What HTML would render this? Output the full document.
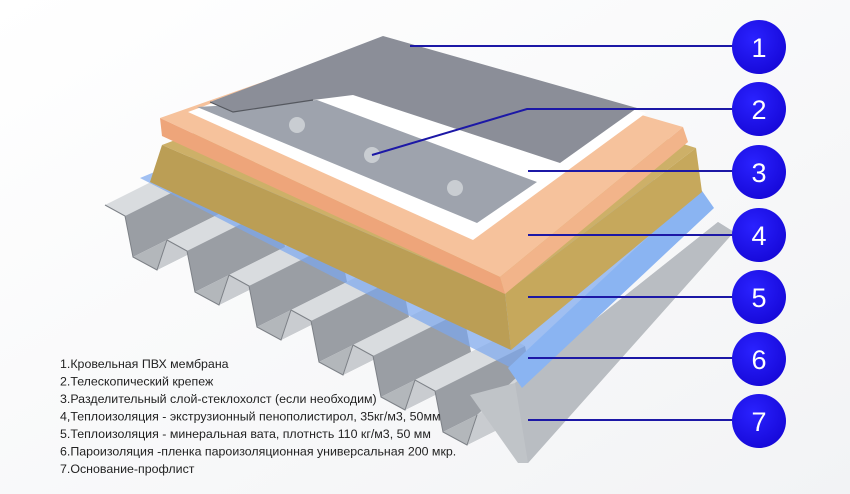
<!DOCTYPE html>
<html><head><meta charset="utf-8"><style>
html,body{margin:0;padding:0;background:#fff;}
svg{display:block}
</style></head><body>
<svg width="850" height="494" viewBox="0 0 850 494" xmlns="http://www.w3.org/2000/svg">
<defs>
<radialGradient id="cg" cx="0.4" cy="0.35" r="0.7">
<stop offset="0" stop-color="#2a22ff"/><stop offset="1" stop-color="#1608d8"/>
</radialGradient>
<linearGradient id="bg" x1="0" y1="0" x2="1" y2="1">
<stop offset="0" stop-color="#ffffff"/><stop offset="1" stop-color="#f2f3f5"/>
</linearGradient>
<g id="rib">
<polygon points="0,0 20,11 110,-34 90,-45" fill="#d9dcdf"/>
<polygon points="20,11 28,52 118,7 110,-34" fill="#9a9ea4"/>
<polygon points="28,52 52,65 142,20 118,7" fill="#b3b7bb"/>
<polygon points="52,65 62,35 152,-10 142,20" fill="#c9ccd0"/>
<polyline points="0,0 20,11 28,52 52,65 62,35" fill="none" stroke="#7d8187" stroke-width="1"/>
</g>
</defs>
<rect width="850" height="494" fill="url(#bg)"/>

<!-- steel deck ribs -->
<use href="#rib" x="105" y="205"/>
<use href="#rib" x="167" y="240"/>
<use href="#rib" x="229" y="275"/>
<use href="#rib" x="291" y="310"/>
<use href="#rib" x="353" y="345"/>
<use href="#rib" x="415" y="380"/>
<!-- last rib top + big web -->
<polygon points="477,415 497,405 700,215 690,212" fill="#d4d7da"/>
<polygon points="470,395 515,383 718,222 734,232 528,463 518,463" fill="#c0c4c8"/>
<polygon points="515,383 718,222 734,232 528,463" fill="#b9bdc2"/>

<!-- blue vapour film -->
<polygon points="140,178 400,70 712,205 527,376" fill="#7aa6ee" fill-opacity="0.7"/>
<polygon points="700,188 714,208 522,388 508,368" fill="#8ab4f2"/>

<!-- mineral wool -->
<polygon points="162,145 400,55 696,148 505,293" fill="#cdb068"/>
<polygon points="162,145 505,293 511,350 150,182" fill="#bb9e55"/>
<polygon points="505,293 696,148 702,192 511,350" fill="#c6a85c"/>

<!-- XPS orange -->
<polygon points="160,118 382,40 683,127 500,277" fill="#f6c29c"/>
<polygon points="160,118 500,277 505,294 162,136" fill="#eea57a"/>
<polygon points="500,277 683,127 688,142 505,294" fill="#f2b48a"/>

<!-- white glass mat -->
<polygon points="188,112 383,40 646,113 473,240" fill="#ffffff"/>

<!-- lower membrane strip -->
<polygon points="197,107 317,100 537,182 477,223" fill="#9ea3ad"/>
<circle cx="297" cy="125" r="8" fill="#c9cdd2"/>
<circle cx="372" cy="155" r="8" fill="#c9cdd2"/>
<circle cx="455" cy="188" r="8" fill="#c9cdd2"/>

<!-- upper membrane sheet -->
<polygon points="383,36 637,108 560,163 353,95 313,100 233,112 210,102 263,82" fill="#8b8e98"/>
<polyline points="210,102 233,112 313,100" fill="none" stroke="#55585f" stroke-width="1.2"/>

<!-- leader lines -->
<g stroke="#1c18a6" stroke-width="2" fill="none">
<line x1="410" y1="46" x2="735" y2="46"/>
<polyline points="372,155 527,109 735,109"/>
<line x1="528" y1="171" x2="735" y2="171"/>
<line x1="528" y1="235" x2="735" y2="235"/>
<line x1="528" y1="297" x2="735" y2="297"/>
<line x1="528" y1="358" x2="735" y2="358"/>
<line x1="528" y1="420" x2="735" y2="420"/>
</g>

<!-- circles -->
<g fill="url(#cg)">
<circle cx="759" cy="47" r="27"/>
<circle cx="759" cy="109" r="27"/>
<circle cx="759" cy="172" r="27"/>
<circle cx="759" cy="235" r="27"/>
<circle cx="759" cy="297" r="27"/>
<circle cx="759" cy="359" r="27"/>
<circle cx="759" cy="421" r="27"/>
</g>
<g fill="#fff" font-family="Liberation Sans, sans-serif" font-size="27" text-anchor="middle">
<text x="759" y="57">1</text>
<text x="759" y="119">2</text>
<text x="759" y="182">3</text>
<text x="759" y="245">4</text>
<text x="759" y="307">5</text>
<text x="759" y="369">6</text>
<text x="759" y="431">7</text>
</g>

<!-- legend -->
<g fill="#222" font-family="Liberation Sans, 'DejaVu Sans', sans-serif" font-size="12.4">
<text x="60" y="368">1.Кровельная ПВХ мембрана</text>
<text x="60" y="385.5">2.Телескопический крепеж</text>
<text x="60" y="403">3.Разделительный слой-стеклохолст (если необходим)</text>
<text x="60" y="420.5">4,Теплоизоляция - экструзионный пенополистирол, 35кг/м3, 50мм</text>
<text x="60" y="438">5.Теплоизоляция - минеральная вата, плотнсть 110 кг/м3, 50 мм</text>
<text x="60" y="455.5">6.Пароизоляция -пленка пароизоляционная универсальная 200 мкр.</text>
<text x="60" y="473">7.Основание-профлист</text>
</g>
</svg>
</body></html>
